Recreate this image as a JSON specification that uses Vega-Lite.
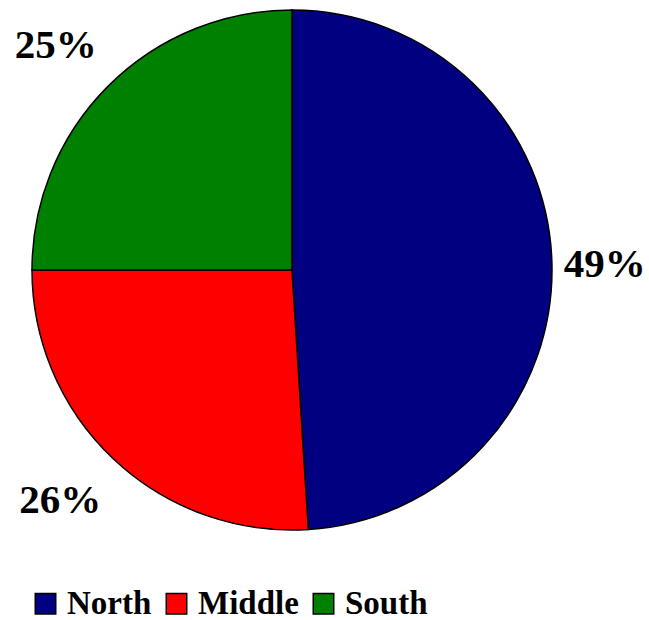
{
  "$schema": "https://vega.github.io/schema/vega-lite/v6.json",
  "width": 584,
  "height": 540,
  "padding": {"left": 0, "top": 0, "right": 65, "bottom": 80},
  "autosize": {"type": "none"},
  "background": "white",
  "data": {
    "values": [
      {"region": "North", "pct": 0.49, "idx": 1},
      {"region": "Middle", "pct": 0.26, "idx": 2},
      {"region": "South", "pct": 0.25, "idx": 3}
    ]
  },
  "encoding": {
    "theta": {"field": "pct", "type": "quantitative", "stack": true},
    "order": {"field": "idx", "type": "quantitative"}
  },
  "layer": [
    {
      "mark": {"type": "arc", "outerRadius": 260, "stroke": "black", "strokeWidth": 1.5},
      "encoding": {
        "color": {
          "field": "region",
          "type": "nominal",
          "sort": ["North", "Middle", "South"],
          "scale": {"domain": ["North", "Middle", "South"], "range": ["#000080", "#FF0000", "#008000"]},
          "legend": {
            "title": null,
            "orient": "none",
            "direction": "horizontal",
            "legendX": 29,
            "legendY": 587,
            "symbolType": "square",
            "symbolSize": 420,
            "symbolStrokeColor": "black",
            "symbolStrokeWidth": 1.5,
            "symbolOpacity": 1,
            "labelFont": "Liberation Serif",
            "labelFontWeight": "bold",
            "labelFontSize": 33,
            "labelColor": "black",
            "labelOffset": 5,
            "labelLimit": 300,
            "columnPadding": 8
          }
        }
      }
    },
    {
      "mark": {"type": "text", "radius": 313, "dy": 5, "font": "Liberation Serif", "fontWeight": "bold", "fontSize": 41, "color": "black", "align": "center", "baseline": "middle"},
      "encoding": {
        "text": {"field": "pct", "type": "quantitative", "format": ".0%"},
        "opacity": {"condition": {"test": "datum.region === 'North'", "value": 1}, "value": 0}
      }
    },
    {
      "mark": {"type": "text", "radius": 327, "dx": -8, "dy": -7, "font": "Liberation Serif", "fontWeight": "bold", "fontSize": 41, "color": "black", "align": "center", "baseline": "middle"},
      "encoding": {
        "text": {"field": "pct", "type": "quantitative", "format": ".0%"},
        "opacity": {"condition": {"test": "datum.region === 'Middle'", "value": 1}, "value": 0}
      }
    },
    {
      "mark": {"type": "text", "radius": 327, "dx": -5, "dy": 7, "font": "Liberation Serif", "fontWeight": "bold", "fontSize": 41, "color": "black", "align": "center", "baseline": "middle"},
      "encoding": {
        "text": {"field": "pct", "type": "quantitative", "format": ".0%"},
        "opacity": {"condition": {"test": "datum.region === 'South'", "value": 1}, "value": 0}
      }
    }
  ]
}
